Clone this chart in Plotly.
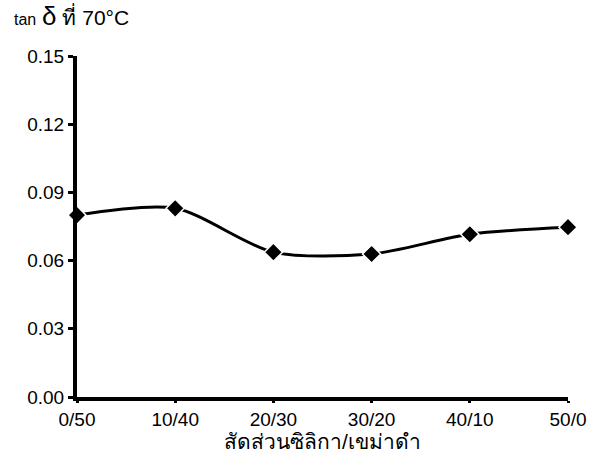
import plotly.graph_objects as go

# silica / carbon black ratio and loss tangent at 70 °C
ratios = ["0/50", "10/40", "20/30", "30/20", "40/10", "50/0"]
tan_delta = [0.080, 0.083, 0.0637, 0.0629, 0.0716, 0.0747]
y_ticks = [0.00, 0.03, 0.06, 0.09, 0.12, 0.15]
y_tick_text = ["0.00", "0.03", "0.06", "0.09", "0.12", "0.15"]

x_pos = list(range(len(ratios)))

fig = go.Figure()
fig.add_trace(go.Scatter(
    x=x_pos,
    y=tan_delta,
    mode="lines+markers",
    line=dict(color="black", width=3, shape="spline", smoothing=0.8),
    marker=dict(symbol="diamond", size=14, color="black",
                line=dict(color="white", width=1.5)),
    cliponaxis=False,
    showlegend=False,
))

font_main = "Liberation Sans, Arial, sans-serif"

fig.update_layout(
    width=598,
    height=475,
    margin=dict(l=77, r=24, t=56, b=78),
    paper_bgcolor="white",
    plot_bgcolor="white",
    font=dict(family=font_main, color="black", size=19),
    xaxis=dict(
        range=[0, 5],
        tickmode="array",
        tickvals=x_pos,
        ticktext=ratios,
        showline=True,
        linecolor="black",
        linewidth=4,
        ticks="outside",
        ticklen=2,
        tickwidth=3,
        tickcolor="black",
        showgrid=False,
        zeroline=False,
        tickfont=dict(size=19),
        title=dict(text="สัดส่วนซิลิกา/เขม่าดำ", font=dict(size=21), standoff=6),
    ),
    yaxis=dict(
        range=[0, 0.15],
        tickmode="array",
        tickvals=y_ticks,
        ticktext=y_tick_text,
        showline=True,
        linecolor="black",
        linewidth=4,
        ticks="outside",
        ticklen=5,
        tickwidth=3,
        tickcolor="black",
        showgrid=False,
        zeroline=False,
        tickfont=dict(size=19),
    ),
    annotations=[
        dict(
            text="<span style='font-size:16px'>tan</span> <span style='font-size:26px'>δ</span> ที่ 70°C",
            xref="paper", yref="paper",
            x=-0.132, y=1.118,
            xanchor="left", yanchor="middle",
            showarrow=False,
            font=dict(size=21, family=font_main),
        )
    ],
)

fig.write_html("out.html")
